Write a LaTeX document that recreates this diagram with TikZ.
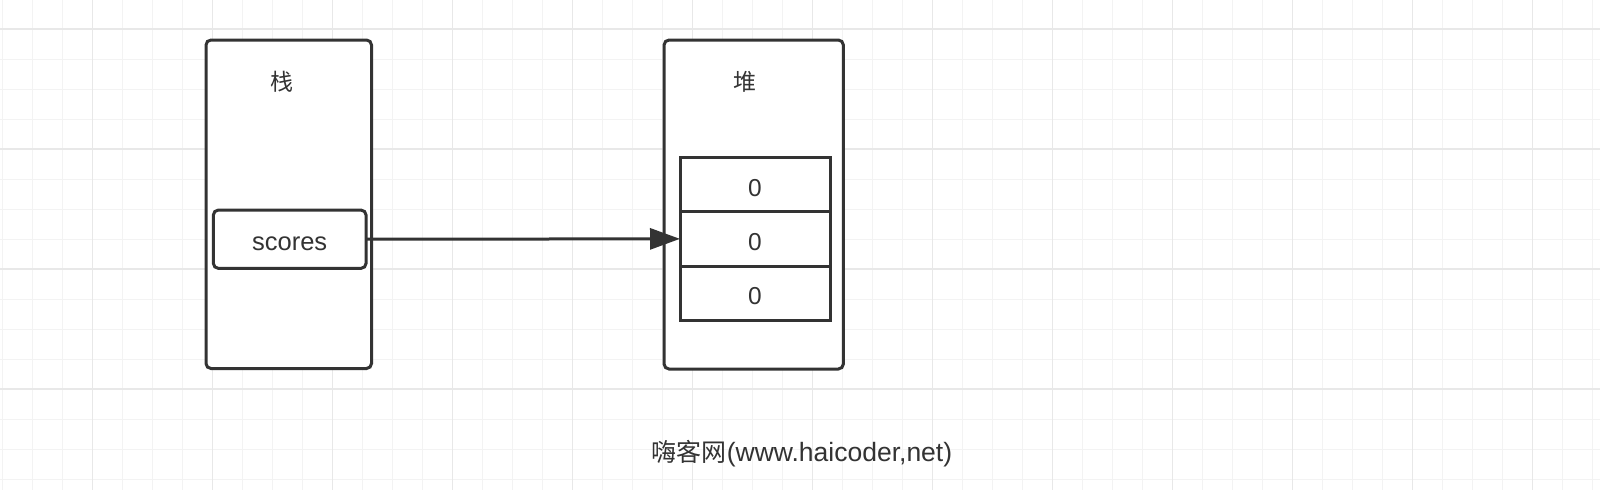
\documentclass[tikz,border=0pt]{standalone}
\usepackage{fontspec}
\setmainfont{Liberation Sans}
\newfontfamily\cjk{Noto Sans CJK SC}
\usetikzlibrary{arrows.meta}
\definecolor{ink}{HTML}{333333}
\definecolor{gridminor}{RGB}{243,243,243}
\definecolor{gridmajor}{RGB}{232,232,232}
\tikzset{
  outerbox/.style={draw=ink, line width=3pt, rounded corners=5pt, fill=white, outer sep=0pt, inner sep=0pt},
  varbox/.style={draw=ink, line width=3pt, rounded corners=5pt, fill=white, outer sep=0pt, inner sep=0pt, text=ink, font=\fontsize{25.5}{28}\selectfont, text height=22pt, text depth=0pt},
  cellbox/.style={draw=ink, line width=3pt, fill=white, outer sep=0pt, inner sep=0pt, text=ink, font=\fontsize{24.5}{28}\selectfont, minimum width=150pt, text height=23.5pt, text depth=0pt},
  titletext/.style={text=ink, font=\cjk\fontsize{23}{26}\selectfont, inner sep=0pt},
  foottext/.style={text=ink, font=\fontsize{26.5}{30}\selectfont, inner sep=0pt},
  link/.style={draw=ink, line width=3pt, -{Triangle[length=30pt,width=21pt]}},
}
\begin{document}
\begin{tikzpicture}[x=1pt,y=-1pt]
\useasboundingbox (0,0) rectangle (1600,490);
\fill[white] (0,0) rectangle (1600,490);
% grid
\foreach \k in {0,...,53} \draw[gridminor, line width=1pt] ({2.7+30*\k},0) -- ({2.7+30*\k},490);
\foreach \k in {0,...,16} \draw[gridminor, line width=1pt] (0,{-1+30*\k}) -- (1600,{-1+30*\k});
\foreach \k in {0,...,12} \draw[gridmajor, line width=1.5pt] ({92.7+120*\k},0) -- ({92.7+120*\k},490);
\foreach \k in {0,...,3} \draw[gridmajor, line width=1.5pt] (0,{29+120*\k}) -- (1600,{29+120*\k});
% stack
\node[outerbox, minimum width=165.5pt, minimum height=328.5pt] (stack) at (288.75,204.25) {};
\node[titletext] (stacktitle) at (281.6,81.5) {栈};
\node[varbox, minimum width=152.7pt, minimum height=58.3pt] (scores) at (289.7,239.2) {scores};
% heap
\node[outerbox, minimum width=179.3pt, minimum height=329pt] (heap) at (753.7,204.5) {};
\node[titletext] (heaptitle) at (744.5,81.5) {堆};
\node[cellbox, minimum height=54.4pt] (c1) at (755,184.5) {0};
\node[cellbox, minimum height=54.3pt] (c2) at (755,238.85) {0};
\node[cellbox, minimum height=54pt] (c3) at (755,293) {0};
% arrow
\draw[link] (scores.east) -- (c2.west);
% footer
\node[foottext] (footer) at (802,453.5) {{\cjk\fontsize{25}{30}\selectfont 嗨客网}(www.haicoder,net)};
\end{tikzpicture}
\end{document}
